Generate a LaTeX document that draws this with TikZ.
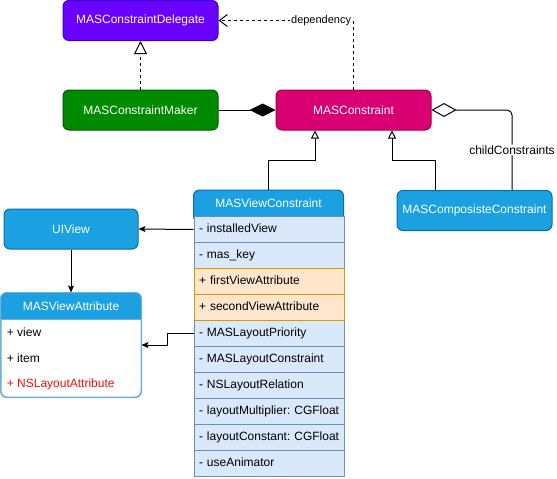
\documentclass[tikz,border=0pt]{standalone}
\usepackage{fontspec}
\setmainfont{Liberation Sans}
\usetikzlibrary{arrows.meta,calc}
\frenchspacing

\definecolor{purpleF}{HTML}{6A00FF}
\definecolor{purpleD}{HTML}{3700CC}
\definecolor{greenF}{HTML}{008A00}
\definecolor{greenD}{HTML}{005700}
\definecolor{magF}{HTML}{D80073}
\definecolor{magD}{HTML}{A50040}
\definecolor{blueF}{HTML}{1BA1E2}
\definecolor{blueD}{HTML}{006EAF}
\definecolor{rowF}{HTML}{DAE8FC}
\definecolor{rowD}{HTML}{6C8EBF}
\definecolor{orF}{HTML}{FFE6CC}
\definecolor{orD}{HTML}{D79B00}
\definecolor{attrD}{HTML}{73AFD7}
\definecolor{attrRed}{HTML}{E81010}

\begin{document}
\begin{tikzpicture}[x=1pt, y=-1pt, line width=1pt,
  every node/.style={font=\fontsize{12pt}{14pt}\selectfont\frenchspacing},
  cls/.style={rectangle, rounded corners=6pt, draw, minimum width=155pt,
    minimum height=40pt, inner sep=0pt, text=white},
  row/.style={rectangle, draw=rowD, fill=rowF, anchor=north west,
    text width=146pt, align=left, inner xsep=2pt, inner ysep=0pt,
    minimum height=26pt, text height=9pt, text depth=3pt,
    execute at begin node={\hspace*{3pt}}},
  orow/.style={row, draw=orD, fill=orF},
  dashline/.style={dash pattern=on 3pt off 3pt},
  filledtip/.style={-{Stealth[length=7pt,width=6pt,inset=1.5pt]}},
  inherit/.style={-{Triangle[open,length=8pt,width=8pt]}}
]
\useasboundingbox (0,0) rectangle (557,479);

% plain class boxes
\node[cls, fill=purpleF, draw=purpleD] (delegate) at (140.5,20.5) {MASConstraintDelegate};
\node[cls, fill=greenF, draw=greenD] (maker) at (140.5,110) {MASConstraintMaker};
\node[cls, fill=magF, draw=magD] (constraint) at (353.5,110) {MASConstraint};
\node[cls, fill=blueF, draw=blueD] (composite) at (474.5,210.5) {MASComposisteConstraint};
\node[cls, fill=blueF, draw=blueD, minimum width=134pt] (uiview) at (71,229) {UIView};

% MASViewConstraint: header with rounded top, then the member rows
\path[draw=blueD, fill=blueF, rounded corners=6pt] (193.5,190) rectangle (343.5,222);
\node[minimum width=150pt, minimum height=26pt, inner sep=0pt, text=white]
  (vchead) at (268.5,203) {MASViewConstraint};
\node[row] (vcInstalled)  at (193.5,216) {- installedView};
\node[row] (vcKey)        at (193.5,242) {- mas\_key};
\node[row] (vcPriority)   at (193.5,320) {- MASLayoutPriority};
\node[row] (vcLayout)     at (193.5,346) {- MASLayoutConstraint};
\node[row] (vcRelation)   at (193.5,372) {- NSLayoutRelation};
\node[row] (vcMultiplier) at (193.5,398) {- layoutMultiplier: CGFloat};
\node[row] (vcConstant)   at (193.5,424) {- layoutConstant: CGFloat};
\node[row] (vcAnimator)   at (193.5,450) {- useAnimator};
\node[orow] (vcFirst)     at (193.5,268) {+ firstViewAttribute};
\node[orow] (vcSecond)    at (193.5,294) {+ secondViewAttribute};

% MASViewAttribute: rounded box with a filled header band
\node[draw=attrD, fill=white, rounded corners=6pt, minimum width=140pt,
  minimum height=104pt, inner sep=0pt] (attr) at (71,345) {};
\begin{scope}
  \clip[rounded corners=6pt] (attr.north west) rectangle (attr.south east);
  \fill[blueF] (1,293) rectangle (141,319);
\end{scope}
\draw[attrD] (1,319) -- (141,319);
\draw[attrD, rounded corners=6pt] (attr.north west) rectangle (attr.south east);
\node[text=white] (attrhead) at (71,306) {MASViewAttribute};
\node[anchor=west] (attrView) at (3,332.5) {+ view};
\node[anchor=west] (attrItem) at (3,358) {+ item};
\node[anchor=west, text=attrRed] (attrLayout) at (3,384) {+ NSLayoutAttribute};

% realization and dependency
\draw[dashline, -{Triangle[open,length=13pt,width=13pt]}] (maker.north) -- (delegate.south);
\draw[dashline, -{Straight Barb[length=8pt,width=12pt]}] (constraint.north) |- (delegate.east)
  node[pos=0.62, fill=white, inner sep=1pt, font=\fontsize{11pt}{13pt}\selectfont] (deplbl) {dependency};

% composition and aggregation
\draw[-{Diamond[length=26pt,width=13pt]}] (maker.east) -- (constraint.west);
\draw[rounded corners=5pt, {Diamond[open,length=25pt,width=14pt]}-]
  (constraint.east) -| ($(composite.north)+(37.5,0)$)
  node[pos=0.75, fill=white, inner sep=1pt] (childlbl) {childConstraints};

% inheritance
\draw[inherit] (vchead.north) |- ($(constraint.south)+(-38.5,30)$) -- ($(constraint.south)+(-38.5,0)$);
\draw[inherit] ($(composite.north)+(-39,0)$) |- ($(constraint.south)+(38.5,30)$) -- ($(constraint.south)+(38.5,0)$);

% associations
\draw[filledtip] (vcInstalled.west) -- (uiview.east);
\draw[filledtip] (uiview.south) -- (attr.north);
\draw[filledtip] (vcPriority.west) -- ++(-26,0) |- (attr.east);
\end{tikzpicture}
\end{document}
